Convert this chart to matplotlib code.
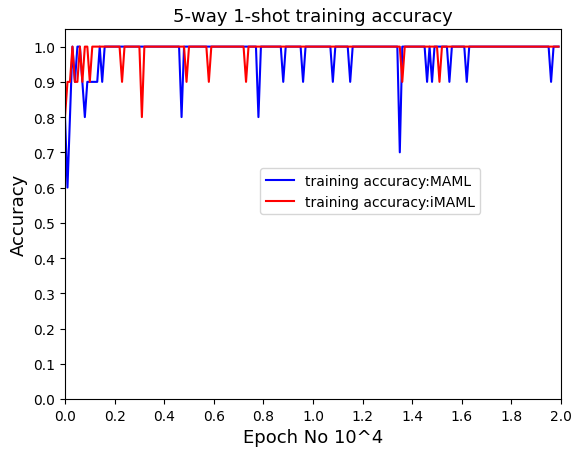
#!/usr/bin/env python3
# -*- coding: utf-8 -*-
import numpy as np
import matplotlib
matplotlib.use("Agg")
import matplotlib.pyplot as plt

# -------------------------
# Data (epoch in units of 10^4, one sample every 100 epochs)
# -------------------------
n_points = 200
epochs = np.arange(n_points) / 100.0

# first samples of each run (epoch 0 .. 0.16)
maml_start = [0.8, 0.6, 0.8, 1.0, 0.9, 1.0, 1.0, 0.9, 0.8, 0.9,
              0.9, 0.9, 0.9, 0.9, 1.0, 0.9, 1.0]
imaml_start = [0.8, 0.9, 0.9, 1.0, 0.9, 0.9, 1.0, 0.9, 1.0, 1.0,
               0.9, 1.0]

# later samples that are not 1.0 (epoch, accuracy)
maml_dips_x = [0.47, 0.78, 0.88, 0.96, 1.08, 1.15, 1.35, 1.46, 1.48, 1.55, 1.62, 1.96]
maml_dips_y = [0.8, 0.8, 0.9, 0.9, 0.9, 0.9, 0.7, 0.9, 0.9, 0.9, 0.9, 0.9]
imaml_dips_x = [0.23, 0.31, 0.49, 0.58, 0.73, 1.36, 1.51]
imaml_dips_y = [0.9, 0.8, 0.9, 0.9, 0.9, 0.9, 0.9]


def build_series(start, dips_x, dips_y):
    acc = np.ones(n_points)
    acc[:len(start)] = start
    for x, y in zip(dips_x, dips_y):
        acc[int(round(x * 100))] = y
    return acc


maml = build_series(maml_start, maml_dips_x, maml_dips_y)
imaml = build_series(imaml_start, imaml_dips_x, imaml_dips_y)

# -------------------------
# Plot
# -------------------------
fig = plt.figure(figsize=(5.75, 4.52), dpi=100)
ax = fig.add_axes([65 / 575, 52 / 452, 496 / 575, 370 / 452])
ax.plot(epochs, maml, color="blue", linewidth=1.5, label="training accuracy:MAML")
ax.plot(epochs, imaml, color="red", linewidth=1.5, label="training accuracy:iMAML")
ax.set_xlim(0, 2.0)
ax.set_ylim(0, 1.05)
ax.set_xticks(np.arange(0, 2.01, 0.2))
ax.set_yticks(np.arange(0, 1.01, 0.1))
ax.set_title("5-way 1-shot training accuracy", fontsize=13)
ax.set_xlabel("Epoch No 10^4", fontsize=13)
ax.set_ylabel("Accuracy", fontsize=13)
ax.legend(loc="upper left", bbox_to_anchor=(0.38, 0.643), fontsize=10)
fig.savefig("out.png", dpi=100)
